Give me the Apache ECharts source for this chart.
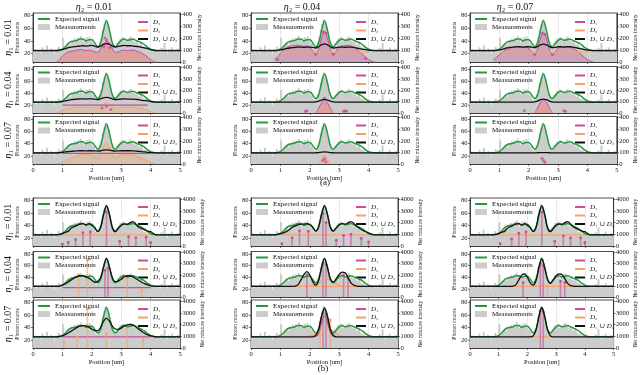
<!DOCTYPE html>
<html><head><meta charset="utf-8">
<script src="https://cdn.jsdelivr.net/npm/echarts@6/dist/echarts.min.js"></script>
<style>html,body{margin:0;padding:0;background:#fff}#c{width:640px;height:375px}</style>
</head><body><div id="c"></div><script>
// ---------- shared values ----------
const baseline = 25;
const colTitles = ['0.01', '0.04', '0.07'];
const rowTitles = ['0.01', '0.04', '0.07'];
const xTicks = [0, 1, 2, 3, 4, 5];
const leftTicks = [20, 40, 60, 80];
const rightTicksA = [0, 100, 200, 300, 400];
const rightTicksB = [0, 1000, 2000, 3000, 4000];
// measurement bins (width 0.05 um)
const measurements = [24,27,22,26,25,21,30,23,26,33,24,22,28,25,20,27,26,31,
  26,29,45,27,33,36,
  38,34,41,39,44,42,45,40,48,43,38,41,46,43,47,40,37,35,30,28,
  32,38,45,58,66,74,71,63,50,40,33,30,
  32,37,40,44,42,46,39,43,41,45,47,42,40,38,41,36,34,37,32,29,30,27,26,28,25,27,24,26,
  23,26,22,29,25,37,24,21,27,25,30,23,26,22,28,25];
// curves sampled at x = 0.8 ... 4.2 (step 0.1)
const expected = [25,25.5,27,31,36,39,40,41,43,43,40,42,42,37,31,37,57,72,57,37,31,36,41,43,41,42,43,41,39,37,34,30,27,25.5,25];

// ---------- (a) panels ----------
const T11_union = [25,25.5,26.5,28,29.5,30.5,31,31.5,32,32.5,32,32.5,33,32,30.5,32,35,36,35,32,30.5,31.5,32.5,33,32.5,32.5,32,31.5,31,30,29,28,26.5,25.5,25];
const T11_d1 = [0,20,50,70,85,90,95,100,105,100,95,100,95,85,80,110,150,170,150,110,80,85,95,100,95,100,100,95,85,75,60,40,20,5,0];
const T11_d2 = [0,10,30,45,55,60,62,64,66,64,62,64,62,55,48,70,120,150,120,70,48,55,62,64,62,64,64,60,55,48,38,25,12,3,0];
const T11_dots = [[2.4,130],[2.45,200],[2.5,185],[2.55,160],[2.6,120]];

const T21_union = [25,25.5,26,27,28,29,29.5,30,30.5,30.5,30,30.5,30.5,30,29,30.5,32,33,32,30.5,29,29.5,30,30.5,30,30,30,29.5,29,28,27.5,27,26,25.5,25];
const T21_d1Flat = [1.0, 3.9, 20];
const T21_d2 = [0,10,25,35,40,45,48,50,52,50,48,50,50,45,42,55,75,90,75,55,42,45,50,52,50,50,50,48,44,40,32,22,12,4,0];
const T21_dots = [[2.35,45],[2.5,60],[2.65,30]];

const T31_union = [25,25.3,25.8,26.5,27,27.5,28,28.3,28.5,28.5,28.3,28.5,28.5,28.3,28,28.5,29.5,30,29.5,28.5,28,28.3,28.5,28.5,28.5,28.5,28.3,28,27.5,27,26.5,26,25.5,25.2,25];
const T31_d1Flat = [1.0, 4.0, 24.3];
const T31_d2 = [0,5,15,30,40,50,60,70,80,85,80,85,80,65,55,90,150,180,150,90,55,65,80,85,80,85,80,70,60,50,40,28,15,5,0];

const T12_union = [25,25.3,26,27,28,29,29.5,30,30.5,30.5,30,30.5,30.5,30,29,31,34,35.5,34,31,29,29.5,30.5,30.5,30,30.5,30.5,30,29,28,27,26.5,25.8,25.3,25];
const T12_d1 = [25,40,70,100,120,130,135,140,140,135,130,135,125,90,60,110,200,260,200,110,60,90,125,135,135,140,135,125,105,85,60,40,20,8,0];
const T12_d2Flat = [1.0, 4.0, 22.5];
const T12_dots = [[0.9,20],[2.2,65],[2.8,65],[2.45,250],[2.55,240],[3.9,30]];

const T22_union = [25,25,25,25,25,25,25,25,25,25,25,25,25,25,25.3,26.5,28.5,29.5,28.5,26.5,25.3,25,25,25,25,25,25,25,25,25,25,25,25,25,25];
const T22_d1 = [[2.2,0],[2.3,40],[2.4,90],[2.5,115],[2.6,90],[2.7,40],[2.8,0]];
const T22_d2 = [[2.2,0],[2.3,25],[2.4,50],[2.5,60],[2.6,50],[2.7,25],[2.8,0]];
const T22_dots = [[1.85,15],[1.9,20],[3.15,15],[3.2,20],[3.25,15],[2.5,130]];

const T32_union = [25,25,25,25,25,25,25,25,25,25,25,25,25,25,25.2,25.6,26.2,26.6,26.2,25.6,25.2,25,25,25,25,25,25,25,25,25,25,25,25,25,25];
const T32_d2 = [[2.3,0],[2.4,45],[2.5,80],[2.6,45],[2.7,0]];
const T32_dots = [[2.45,30],[2.5,45],[2.55,20]];

const T13_union = [25,25.3,26,27,28.5,29.5,30,30.5,31,31,30.5,31,31,30.5,29.5,31.5,34,35,34,31.5,29.5,30,31,31,30.5,31,31,30.5,29.5,28.5,27.5,26.5,25.8,25.3,25];
const T13_d1 = [20,40,60,80,100,110,120,125,130,125,120,125,115,85,60,110,200,250,200,110,60,85,115,125,125,130,125,115,100,80,60,40,20,8,0];
const T13_d2Flat = [1.0, 4.0, 22.5];
const T13_dots = [[2.2,60],[2.8,60],[2.45,240],[2.55,230]];

const T23_union = [25,25,25,25,25,25,25,25,25,25,25,25,25,25,25.3,26.8,29,30,29,26.8,25.3,25,25,25,25,25,25,25,25,25,25,25,25,25,25];
const T23_d1 = [[2.2,0],[2.3,45],[2.4,95],[2.5,120],[2.6,95],[2.7,45],[2.8,0]];
const T23_d2 = [[2.2,0],[2.3,30],[2.4,55],[2.5,65],[2.6,55],[2.7,30],[2.8,0]];
const T23_dots = [[1.85,20],[3.2,20],[3.25,15]];

const T33_union = [25,25,25,25,25,25,25,25,25,25,25,25,25,25,25,25.2,25.4,25.6,25.4,25.2,25,25,25,25,25,25,25,25,25,25,25,25,25,25,25];
const T33_dots = [[2.45,50],[2.5,30],[2.55,15]];

// ---------- (b) panels ----------
const B11_union = [25,25.5,27,29,30.5,36,38,40,42,43,41,43,40,36,30,37,58,71,58,36,30,35,40,42,42,44,46,42,37,35,33,31,30,27,25];
const B11_stems1 = [[1.0,150],[1.2,300],[1.45,550],[1.7,1150],[1.95,1200],[2.5,2900],[2.95,400],[3.25,800],[3.5,700],[3.85,750],[4.0,300]];
const B11_d2Flat = [0.9, 4.1, 25];

const B21_union = [25,25.5,27,29.5,32.5,36,39,41.5,43,43,41.5,39,35.5,32,33,40,58,72,58,40,33,34,37,41,43,43,41,38,35,32,29.5,27.5,26,25.3,25];
const B21_stems1 = [[2.45,2400],[2.55,2600]];
const B21_stems2 = [[1.55,2000],[1.85,3300],[3.2,1800],[3.7,600]];
const B21_d1Flat = [1.0, 4.0, 23];

const B31_union = [25,25.5,26.5,28.5,31,34,37,40,42,43,42.5,40.5,37.5,35,35,40,50,55,50,42,37.5,37,39,42,44,45,44,41,37,33.5,30.5,28,26.5,25.5,25];
const B31_d1Flat = [1.0, 4.0, 25];
const B31_stems2 = [[1.05,500],[1.5,900],[1.85,3300],[2.5,1200],[3.2,1900],[3.75,700]];

const B12_union = [25,25.5,27,28,30,33,37,39,41,42,42,43,41,37,31,38,58,71,58,37,31,36,41,43,42,44,46,43,38,35,32,30,28,26,25];
const B12_stems1 = [[1.05,200],[1.4,700],[1.65,1300],[1.95,1250],[2.45,2800],[2.55,2000],[2.9,500],[3.15,900],[3.4,1000],[3.75,650],[4.0,350]];
const B12_d2Flat = [0.9, 4.1, 25];

const B22_union = [25,25,25,25,25,25,25,25.5,28,36,45,50,44,33,27,35,57,72,57,38,32,38,45,49,48,40,31,27,25.5,25,25,25,25,25,25];
const B22_d2Curve = [[2.0,25],[2.1,26],[2.2,28],[2.3,31],[2.4,34],[2.5,36],[2.6,37],[2.7,36],[2.8,33],[2.9,29],[3.0,26.5],[3.1,25]];
const B22_d2Flat = [1.0, 4.0, 25];
const B22_stems1 = [[1.9,2000],[2.45,3000],[2.55,2900],[3.15,2000],[3.3,1700]];

const B32_union = [25,25,25,25,25,25,25,25,25,25,25,25,25,25,27,36,58,70,58,36,27,25,25,25,25,25,25,25,25,25,25,25,25,25,25];
const B32_d1Curve = [[2.2,25],[2.3,30],[2.4,48],[2.5,58],[2.6,48],[2.7,32],[2.8,26],[2.9,25]];
const B32_d2Curve = [[1.8,25],[1.9,25.5],[2.0,26.5],[2.1,28],[2.2,30.5],[2.3,33],[2.4,35.5],[2.5,37],[2.6,38],[2.7,37],[2.8,34],[2.9,30],[3.0,27],[3.1,25.5],[3.2,25]];
const B32_stems1 = [[2.45,3000],[2.55,2900]];
const B32_stems2 = [[2.35,2200],[2.7,2400]];

const B13_union = [25,25.5,27,29,30.5,35.5,38,40,42,43,41,43,40,36,30,37,58,71,58,36,30,35,40,42,42,44,46,42.5,37.5,35,33,31,30,27,25];
const B13_stems1 = [[1.05,200],[1.45,600],[1.7,1100],[1.95,1200],[2.5,2900],[2.95,400],[3.25,850],[3.5,700],[3.85,700],[4.0,300]];
const B13_d2Flat = [0.9, 4.1, 25];

const B23_union = [25,25,25,25,25,25,25,25.5,28,36,44,46,40,31,27,35,57,72,57,37,30,36,43,46,45,38,30,26.5,25.3,25,25,25,25,25,25];
const B23_stems1 = [[1.85,1300],[2.45,3000],[2.55,2800],[3.15,1400],[3.3,1300]];
const B23_stems2 = [[2.7,1000]];
const B23_d2Flat = [1.0, 4.0, 25];

const B33_union = [25,25,25,25,25,25,25,25,25,25,25,25,25,25,26.5,36,58,72,58,36,26.5,25,25,25,25,25,25,25,25,25,25,25,25,25,25];
const B33_stems1 = [[2.45,3200],[2.55,3100]];
const B33_d2Flat = [1.6, 2.9, 25];

// ---------- layout / style ----------
const GREEN = '#239b3c', PINK = '#cc4c98', ORANGE = '#f7a26b', BLACK = '#111111', GRAY = '#cccccc';
const FONT = "'Liberation Serif','DejaVu Serif',serif";
const COLS = [33, 251, 470], PW = 147;
const ROWS = [[13,49],[66.5,46.5],[116.5,47.5],[198,48],[251.5,45.5],[300,48]];
const leftMin = 7, leftMax = 84;
const binWidth = 0.05;
const linePosX = Array.from({length: 35}, (_, i) => Math.round((0.8 + 0.1 * i) * 10) / 10);
const binCenters = measurements.map((_, i) => Math.round((binWidth / 2 + binWidth * i) * 1000) / 1000);

const panels = [
  {row:0,col:0,union:T11_union,d1Area:T11_d1,d2Area:T11_d2,d1Dots:T11_dots},
  {row:1,col:0,union:T21_union,d1Flat:T21_d1Flat,d2Area:T21_d2,d1Dots:T21_dots},
  {row:2,col:0,union:T31_union,d1Flat:T31_d1Flat,d2Area:T31_d2},
  {row:0,col:1,union:T12_union,d1Area:T12_d1,d2Flat:T12_d2Flat,d1Dots:T12_dots},
  {row:1,col:1,union:T22_union,d1Pts:T22_d1,d2Pts:T22_d2,d1Dots:T22_dots},
  {row:2,col:1,union:T32_union,d2Pts:T32_d2,d1Dots:T32_dots},
  {row:0,col:2,union:T13_union,d1Area:T13_d1,d2Flat:T13_d2Flat,d1Dots:T13_dots},
  {row:1,col:2,union:T23_union,d1Pts:T23_d1,d2Pts:T23_d2,d1Dots:T23_dots},
  {row:2,col:2,union:T33_union,d1Dots:T33_dots},
  {row:3,col:0,union:B11_union,d1Stems:B11_stems1,d2Flat:B11_d2Flat},
  {row:4,col:0,union:B21_union,d1Stems:B21_stems1,d2Stems:B21_stems2,d1Flat:B21_d1Flat},
  {row:5,col:0,union:B31_union,d1Flat:B31_d1Flat,d2Stems:B31_stems2},
  {row:3,col:1,union:B12_union,d1Stems:B12_stems1,d2Flat:B12_d2Flat},
  {row:4,col:1,union:B22_union,d1Stems:B22_stems1,d2Curve:B22_d2Curve,d2Flat:B22_d2Flat},
  {row:5,col:1,union:B32_union,d1Stems:B32_stems1,d2Stems:B32_stems2,d1Curve:B32_d1Curve,d2Curve:B32_d2Curve},
  {row:3,col:2,union:B13_union,d1Stems:B13_stems1,d2Flat:B13_d2Flat},
  {row:4,col:2,union:B23_union,d1Stems:B23_stems1,d2Stems:B23_stems2,d2Flat:B23_d2Flat},
  {row:5,col:2,union:B33_union,d1Stems:B33_stems1,d2Flat:B33_d2Flat}
];

const N1 = 'D\u2081', N2 = 'D\u2082', NU = 'D\u2081 \u222A D\u2082';
const grids = [], xAxes = [], yAxes = [], series = [], legends = [];
const lineData = arr => [[0, baseline]].concat(linePosX.map((x, i) => [x, arr[i]]), [[5, baseline]]);
const txt = {fontFamily: FONT, color: '#111'};
const plain = v => String(v);

function stemSeries(name, color, data, xi, yi) {
  return {type: 'custom', name, xAxisIndex: xi, yAxisIndex: yi, data, z: 3, silent: true,
    itemStyle: {color},
    renderItem: (params, api) => {
      const x = api.value(0), h = api.value(1);
      const p0 = api.coord([x, 0]), p1 = api.coord([x, h]);
      return {type: 'group', children: [
        {type: 'line', shape: {x1: p0[0], y1: p0[1], x2: p1[0], y2: p1[1]}, style: {stroke: color, lineWidth: 1.6, opacity: 0.6}},
        {type: 'circle', shape: {cx: p1[0], cy: p1[1], r: 1.4}, style: {fill: color}}
      ]};
    }};
}

panels.forEach((p, idx) => {
  const isB = p.row >= 3;
  const [top, h] = ROWS[p.row];
  const left = COLS[p.col];
  const bottomRow = p.row === 2 || p.row === 5;
  grids.push({left, top, width: PW, height: h, show: true, borderColor: '#222', borderWidth: 0.8, containLabel: false});
  xAxes.push({gridIndex: idx, type: 'value', min: 0, max: 5, interval: 1,
    axisLine: {lineStyle: {color: '#222', width: 0.8}},
    axisTick: {length: 2, lineStyle: {color: '#222', width: 0.6}},
    axisLabel: {show: bottomRow, customValues: xTicks, fontSize: 6.5, margin: 3, formatter: plain, ...txt},
    splitLine: {show: true, lineStyle: {type: 'dotted', color: '#b5b5b5', width: 0.6}},
    name: bottomRow ? 'Position [um]' : '', nameLocation: 'middle', nameGap: 11,
    nameTextStyle: {fontSize: 6.5, ...txt}});
  const li = 2 * idx, ri = 2 * idx + 1;
  yAxes.push({gridIndex: idx, type: 'value', min: leftMin, max: leftMax, position: 'left',
    axisLine: {show: true, lineStyle: {color: '#222', width: 0.8}},
    axisTick: {show: true, customValues: leftTicks, length: 2, lineStyle: {color: '#222', width: 0.6}},
    axisLabel: {customValues: leftTicks, fontSize: 6.5, margin: 2.5, formatter: plain, ...txt},
    splitLine: {show: false},
    name: 'Photon counts', nameLocation: 'middle', nameGap: 12, nameRotate: 90,
    nameTextStyle: {fontSize: 5.5, ...txt}});
  const rMax = isB ? 4100 : 410;
  const rTicks = isB ? rightTicksB : rightTicksA;
  yAxes.push({gridIndex: idx, type: 'value', min: 0, max: rMax, position: 'right',
    axisLine: {show: true, lineStyle: {color: '#222', width: 0.8}},
    axisTick: {show: true, customValues: rTicks, length: 2, lineStyle: {color: '#222', width: 0.6}},
    axisLabel: {customValues: rTicks, fontSize: 6.5, margin: 2.5, formatter: plain, ...txt},
    splitLine: {show: false},
    name: 'Net mixture intensity', nameLocation: 'middle', nameGap: isB ? 17 : 13, nameRotate: 90,
    nameTextStyle: {fontSize: 5.5, ...txt}});

  // measurements
  series.push({type: 'custom', name: 'Measurements', xAxisIndex: idx, yAxisIndex: li, silent: true, z: 1,
    itemStyle: {color: GRAY},
    data: binCenters.map((x, i) => [x, measurements[i]]),
    renderItem: (params, api) => {
      const x = api.value(0), v = api.value(1);
      const a = api.coord([x - binWidth / 2, v]), b = api.coord([x + binWidth / 2, leftMin]);
      return {type: 'rect', shape: {x: a[0] - 0.3, y: a[1], width: b[0] - a[0] + 0.6, height: b[1] - a[1]},
        style: {fill: GRAY}};
    }});
  const areaS = (name, color, data) => ({type: 'line', name, xAxisIndex: idx, yAxisIndex: ri, data, smooth: 0.3,
    showSymbol: false, silent: true, z: 2, lineStyle: {color, width: 1}, itemStyle: {color},
    areaStyle: {color, opacity: 0.33}});
  if (p.d1Area) series.push(areaS(N1, PINK, linePosX.map((x, i) => [x, p.d1Area[i]])));
  if (p.d2Area) series.push(areaS(N2, ORANGE, linePosX.map((x, i) => [x, p.d2Area[i]])));
  if (p.d1Pts) series.push(areaS(N1, PINK, p.d1Pts));
  if (p.d2Pts) series.push(areaS(N2, ORANGE, p.d2Pts));
  const flatS = (name, color, f) => ({type: 'line', name, xAxisIndex: idx, yAxisIndex: li, silent: true, z: 2,
    data: [[f[0], f[2]], [f[1], f[2]]], showSymbol: false, lineStyle: {color, width: 1.3}, itemStyle: {color}});
  if (p.d1Flat) series.push(flatS(N1, PINK, p.d1Flat));
  if (p.d2Flat) series.push(flatS(N2, ORANGE, p.d2Flat));
  const curveS = (name, color, d) => ({type: 'line', name, xAxisIndex: idx, yAxisIndex: li, silent: true, z: 3,
    data: d, smooth: 0.4, showSymbol: false, lineStyle: {color, width: 1.3}, itemStyle: {color}});
  if (p.d1Curve) series.push(curveS(N1, PINK, p.d1Curve));
  if (p.d2Curve) series.push(curveS(N2, ORANGE, p.d2Curve));
  if (p.d1Stems) series.push(stemSeries(N1, PINK, p.d1Stems, idx, ri));
  if (p.d2Stems) series.push(stemSeries(N2, ORANGE, p.d2Stems, idx, ri));
  if (p.d1Dots) series.push({type: 'scatter', name: N1, xAxisIndex: idx, yAxisIndex: ri, data: p.d1Dots,
    symbolSize: 3, silent: true, z: 3, itemStyle: {color: PINK}});
  series.push({type: 'line', name: 'Expected signal', xAxisIndex: idx, yAxisIndex: li, data: lineData(expected),
    smooth: 0.35, showSymbol: false, silent: true, z: 4, lineStyle: {color: GREEN, width: 1.5}, itemStyle: {color: GREEN}});
  series.push({type: 'line', name: NU, xAxisIndex: idx, yAxisIndex: li, data: lineData(p.union),
    smooth: 0.35, showSymbol: false, silent: true, z: 5, lineStyle: {color: BLACK, width: 1.3}, itemStyle: {color: BLACK}});

  // legends
  const leg = (name, color, lx, ty, iw, ih) => legends.push({left: lx, top: ty, selectedMode: false,
    itemWidth: iw, itemHeight: ih, padding: 0,
    data: [{name, icon: 'rect', itemStyle: {color}}],
    formatter: n => n.replace(/D/g, '{i|D}'),
    textStyle: {fontSize: 7, ...txt, rich: {i: {fontStyle: 'italic', fontSize: 7, fontFamily: FONT, color: '#111'}}}});
  leg('Expected signal', GREEN, left + 5, top + 2.5, 12, 2);
  leg('Measurements', GRAY, left + 5, top + 10.5, 12, 6);
  leg(N1, PINK, left + 105, top + 5.5, 10, 2);
  leg(N2, ORANGE, left + 105, top + 14, 10, 2);
  leg(NU, BLACK, left + 105, top + 22.5, 10, 2);
});

// titles and labels
const graphics = [];
const colCenters = [94, 302, 515];
colTitles.forEach((t, i) => graphics.push({type: 'text', x: colCenters[i], y: 7,
  style: {text: '{i|\u03B7}\u2082 = ' + t, font: '10px ' + FONT, fill: '#111', align: 'center', verticalAlign: 'middle',
    rich: {i: {fontStyle: 'italic', fontSize: 10, fontFamily: FONT}}}}));
ROWS.forEach((r, i) => graphics.push({type: 'text', x: 8, y: r[0] + r[1] / 2, rotation: Math.PI / 2,
  style: {text: '{i|\u03B7}\u2081 = ' + rowTitles[i % 3], font: '10px ' + FONT, fill: '#111', align: 'center', verticalAlign: 'middle',
    rich: {i: {fontStyle: 'italic', fontSize: 10, fontFamily: FONT}}}}));
graphics.push({type: 'text', x: 325, y: 183, style: {text: '(a)', font: '9px ' + FONT, fill: '#111', align: 'center', verticalAlign: 'middle'}});
graphics.push({type: 'text', x: 323, y: 369, style: {text: '(b)', font: '9px ' + FONT, fill: '#111', align: 'center', verticalAlign: 'middle'}});

const chart = echarts.init(document.getElementById('c'), null, {renderer: 'canvas'});
chart.setOption({animation: false, backgroundColor: '#fff', grid: grids, xAxis: xAxes, yAxis: yAxes,
  series, legend: legends, graphic: graphics});
</script></body></html>
